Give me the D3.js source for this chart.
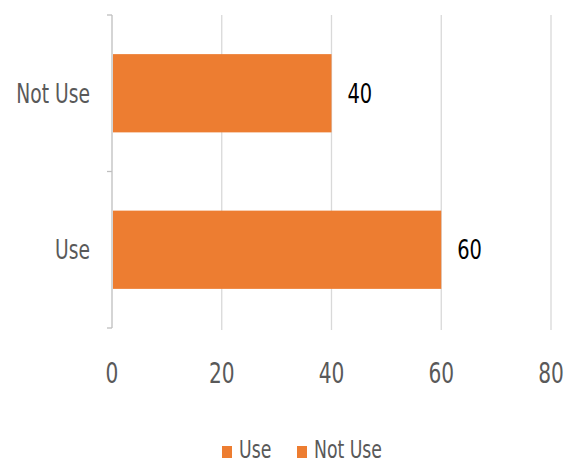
<!DOCTYPE html>
<html><head><meta charset="utf-8">
<script src="https://cdn.jsdelivr.net/npm/d3@7"></script>
<style>body{margin:0;background:#fff}</style>
</head><body>
<script>
const categories = ["Use", "Not Use"];
const values = [60, 40];
const xTicks = [0, 20, 40, 60, 80];
const legendLabels = ["Use", "Not Use"];

const W = 567, H = 466;
const font = "'DejaVu Sans Condensed','DejaVu Sans',sans-serif";
const m = {left:112, top:15};
const svg = d3.select("body").append("svg").attr("width", W).attr("height", H);
const SX = 0.8;

const x = d3.scaleLinear().domain([0, 80]).range([m.left, 551]);
const y = d3.scaleBand().domain(categories.slice().reverse()).range([m.top, 328]).paddingInner(0.5).paddingOuter(0.25);
const yOuter = d3.scaleBand().domain(categories.slice().reverse()).range([m.top, 328]);

function addText(parent, tx, ty, str, opts) {
  const g = parent.append("g").attr("transform", `translate(${tx},${ty}) scale(${SX},1)`);
  g.append("text").attr("text-anchor", opts.anchor || "start").attr("dy", opts.dy || 0)
    .attr("font-family", font).attr("font-size", opts.size).attr("fill", opts.fill).text(str);
}

// gridlines
svg.append("g").selectAll("line").data(xTicks.slice(1)).join("line")
  .attr("x1", d => x(d)).attr("x2", d => x(d)).attr("y1", 15).attr("y2", 330)
  .attr("stroke", "#d9d9d9").attr("stroke-width", 1.3);

// y axis line with ticks between categories
const yAxisG = svg.append("g");
yAxisG.append("line").attr("x1", x(0)).attr("x2", x(0)).attr("y1", 15).attr("y2", 328)
  .attr("stroke", "#bfbfbf").attr("stroke-width", 1.3);
const bounds = [15, yOuter(categories[0]), 328];
yAxisG.selectAll(".tk").data(bounds).join("line")
  .attr("x1", x(0) - 5).attr("x2", x(0)).attr("y1", d => d).attr("y2", d => d)
  .attr("stroke", "#bfbfbf").attr("stroke-width", 1.3);

// bars
svg.append("g").selectAll("rect").data(categories).join("rect")
  .attr("x", x(0) + 1).attr("y", d => y(d))
  .attr("width", (d, i) => x(values[i]) - x(0) - 1).attr("height", y.bandwidth())
  .attr("fill", "#ED7D31");

// value labels
const vl = svg.append("g");
categories.forEach((c, i) => addText(vl, x(values[i]) + 16, y(c) + y.bandwidth() / 2, values[i],
  {size: 27, fill: "#000", dy: "0.36em"}));

// category labels
const cl = svg.append("g");
categories.forEach(c => addText(cl, 90, y(c) + y.bandwidth() / 2, c,
  {size: 26, fill: "#595959", dy: "0.36em", anchor: "end"}));

// x tick labels
const tl = svg.append("g");
xTicks.forEach(t => addText(tl, x(t), 383, t, {size: 28, fill: "#595959", anchor: "middle"}));

// legend
const lg = svg.append("g");
const lx = [222, 297];
legendLabels.forEach((t, i) => {
  lg.append("rect").attr("x", lx[i]).attr("y", 446).attr("width", 10).attr("height", 12).attr("fill", "#ED7D31");
  addText(lg, lx[i] + 17, 458, t, {size: 24, fill: "#595959"});
});
</script>
</body></html>
